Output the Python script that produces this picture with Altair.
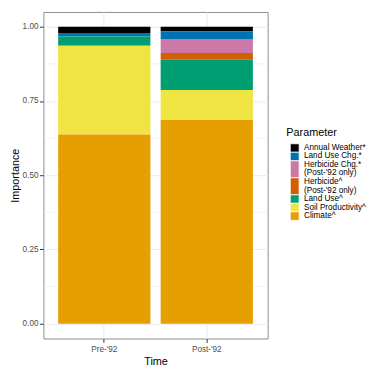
import altair as alt
import pandas as pd

# ---------------- data ----------------
periods = ["Pre-'92", "Post-'92"]
parameters = [
    "Annual Weather*",
    "Land Use Chg.*",
    "Herbicide Chg.*",
    "Herbicide^",
    "Land Use^",
    "Soil Productivity^",
    "Climate^",
]
legend_labels = [
    "Annual Weather*",
    "Land Use Chg.*",
    "Herbicide Chg.*\n (Post-'92 only)",
    "Herbicide^\n (Post-'92 only)",
    "Land Use^",
    "Soil Productivity^",
    "Climate^",
]
colors = ["#000000", "#0072B2", "#CC79A7", "#D55E00", "#009E73", "#F0E442", "#E69F00"]
pre_values = [0.021, 0.012, 0.0, 0.0, 0.031, 0.299, 0.637]
post_values = [0.015, 0.026, 0.047, 0.023, 0.102, 0.101, 0.686]
y_ticks = [0.0, 0.25, 0.5, 0.75, 1.0]
y_minor = [0.125, 0.375, 0.625, 0.875]

# ---------------- layout constants ----------------
FONT = "Liberation Sans"
W, H = 228, 332
KEY = 8.65        # legend key unit height (px)
KEY_TOP = 134     # px from top of panel to first legend key

rows = []
for period, vals in zip(periods, [pre_values, post_values]):
    for i, (name, v) in enumerate(zip(parameters, vals)):
        rows.append({"Time": period, "Parameter": name, "Importance": v,
                     "stack_order": len(parameters) - 1 - i})
df = pd.DataFrame(rows)

color_scale = alt.Scale(domain=parameters, range=colors)
y_scale = alt.Scale(domain=[-0.05, 1.05], nice=False, zero=False)
y_axis = alt.Axis(title="Importance", values=y_ticks, format=".2f", grid=True,
                  titlePadding=2, labelPadding=1.5)

minor = alt.Chart(pd.DataFrame({"v": y_minor})).mark_rule(
    color="#EBEBEB", strokeWidth=0.6
).encode(
    y=alt.Y("v:Q", scale=y_scale, axis=y_axis)
)

bars = alt.Chart(df).mark_bar().encode(
    x=alt.X("Time:N", sort=periods,
            scale=alt.Scale(paddingInner=0.1, paddingOuter=0.144),
            axis=alt.Axis(title="Time", labelAngle=0, bandPosition=0.5, grid=True)),
    y=alt.Y("Importance:Q", stack="zero", scale=y_scale, axis=y_axis),
    color=alt.Color("Parameter:N", scale=color_scale, legend=None),
    order=alt.Order("stack_order:Q", sort="ascending"),
)

main = alt.layer(minor, bars).properties(width=W, height=H)

# ---------------- legend (drawn as its own small chart) ----------------
leg_rows = []
cum = 0.0
for name, lab in zip(parameters, legend_labels):
    n = len(lab.split("\n"))
    leg_rows.append({"Parameter": name, "top": cum, "bottom": cum + n,
                     "first_line": cum + 0.5, "label": lab})
    cum += n
leg_df = pd.DataFrame(leg_rows)

leg_y = alt.Scale(domain=[-KEY_TOP / KEY, (H - KEY_TOP) / KEY], reverse=True,
                  nice=False, zero=False)

keys = alt.Chart(leg_df).mark_rect(stroke="white", strokeWidth=0.8).encode(
    x=alt.value(4), x2=alt.value(13),
    y=alt.Y("top:Q", scale=leg_y, axis=None), y2="bottom:Q",
    color=alt.Color("Parameter:N", scale=color_scale, legend=None),
)
labels = alt.Chart(leg_df).mark_text(
    align="left", baseline="middle", lineBreak="\n", fontSize=8.3,
    lineHeight=KEY, font=FONT, color="black"
).encode(
    x=alt.value(18),
    y=alt.Y("first_line:Q", scale=leg_y, axis=None),
    text="label:N",
)
leg_title = alt.Chart(pd.DataFrame({"t": ["Parameter"], "pos": [-0.92]})).mark_text(
    align="left", baseline="alphabetic", fontSize=11, font=FONT, color="black"
).encode(
    x=alt.value(0),
    y=alt.Y("pos:Q", scale=leg_y, axis=None),
    text="t:N",
)
legend = alt.layer(keys, labels, leg_title).properties(
    width=76, height=H, view=alt.ViewBackground(stroke="transparent")
)

chart = alt.hconcat(main, legend, spacing=17).properties(
    padding=0
).configure(
    font=FONT
).configure_view(
    stroke="#8C8C8C", strokeWidth=1
).configure_axis(
    domain=False,
    tickColor="#333333", tickSize=4, tickWidth=1,
    gridColor="#EBEBEB", gridWidth=1,
    labelColor="#4D4D4D", labelFontSize=8.3, labelFont=FONT, labelPadding=2,
    titleColor="black", titleFontSize=11, titleFont=FONT, titleFontWeight="normal",
    titlePadding=3,
)

chart.save("out.html", embed_options={"renderer": "svg", "actions": False})
